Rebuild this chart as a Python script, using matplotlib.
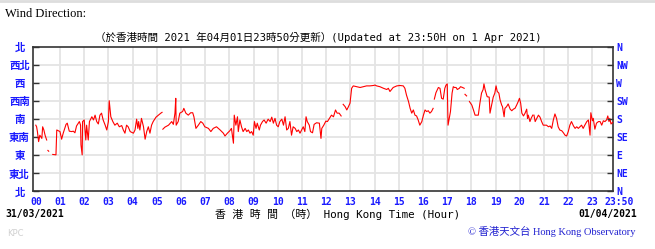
import numpy as np
import matplotlib.pyplot as plt
from matplotlib.lines import Line2D

# wind direction trace, minutes after 00:00, degrees (None = no data)
minutes = [0, 2, 4, 7, 10, 15, 17, 20, 23, 27, None,
           30, 32, None,
           42, 50, 52, 56, 60, 64, 68, 75, 78, 83, 89, 93, 97, 101, 108, 111, 112, 115,
           116, 120, 124, 126, 130, 133, 139, 143, 147, 151, 155, 159, 163, 167, 172,
           176, 180, 182, 186, 191, 196, 202, 207, 213, 217, 221, 225, 229, 234, 242,
           246, 250, 253, 255, 258, 262, 267, 271, 275, 279, 283, 287, 291, 298, 304,
           310, 313, None,
           315, 320, 329, 337, 341, 345, 347, 348, 353, 357, 364, 367, 372, 378, 384,
           389, 392, 397, 403, 409, 414, 419, 428, 434, 440, 448, 457, 465, 469, 475,
           481, 485, 490, 492, 496, 500, 502, 506, 510, 514, 519, 523, 527, 531, 535,
           539, 542, 546, 549, 554, 557, 562, 566, 571, 576, 581, 585, 589, 593, 597,
           601, 605, 610, 614, 618, 622, 626, 630, 634, 638, 643, 647, 651, 655, 659,
           663, 667, 670, 673, 678, 681, 686, 690, 696, 703, 707, 709, 714, 719, 723,
           728, 733, 738, 743, 747, 752, 757, None,
           762, 767, 771, 775, 779, 783, 787, 795, 804, 812, 820, 828, 837, 841, 845,
           853, 862, 870, 874, 878, 882, 886, 895, 903, 911, 915, 919, 924, 928, 932,
           936, 940, 944, 948, 952, 957, 961, 965, 969, 973, 977, 981, 985, None,
           988, 992, 998, 1002, 1006, 1010, 1014, 1017, 1020, 1022, 1025, 1028, 1032,
           1035, 1038, 1042, 1045, 1050, 1053, 1058, 1062, None,
           1064, 1068, None,
           1075, 1081, 1085, 1089, 1093, 1097, 1101, 1105, 1109, 1111, 1114, 1119, 1124,
           1126, 1130, 1134, 1138, 1141, 1144, 1148, 1151, 1155, 1157, 1161, 1163, 1167,
           1171, 1176, 1180, 1184, 1188, 1192, 1196, 1199, 1202, 1205, 1209, 1213, 1217,
           1219, 1221, 1225, 1228, 1232, None,
           1235, 1238, 1242, 1246, 1250, 1254, 1258, 1262, 1266, 1271, 1275, 1279, 1283,
           1287, 1291, 1295, 1299, 1304, 1308, 1312, 1316, 1320, 1324, 1328, 1333, 1337,
           1341, 1345, 1349, 1353, 1357, 1361, 1366, 1370, 1374, 1376, 1380, 1382, 1386,
           1390, 1395, 1399, 1403, 1407, 1411, 1415, 1418, 1421, 1423, 1426, 1430]
degrees = [165, 161, 149, 124, 140, 132, 161, 153, 140, 128, None,
           102, 100, None,
           92, 91, 153, 151, 149, 130, 145, 167, 170, 150, 149, 150, 146, 163, 174, 165, 116, 91,
           174, 178, 128, 165, 128, 174, 186, 178, 190, 174, 168, 190, 195, 178, 165,
           153, 174, 226, 186, 174, 165, 170, 161, 164, 153, 145, 165, 161, 149, 145,
           153, 180, 157, 174, 153, 182, 161, 130, 149, 161, 145, 165, 174, 185, 190,
           195, 197, None,
           155, 160, 165, 174, 167, 195, 232, 165, 174, 195, 199, 207, 195, 190, 196,
           196, 186, 157, 165, 174, 170, 161, 157, 149, 157, 161, 153, 145, 138, 145,
           151, 157, 120, 190, 165, 186, 149, 178, 161, 149, 157, 149, 153, 145, 149,
           140, 174, 157, 170, 153, 165, 174, 178, 170, 180, 174, 185, 170, 182, 165,
           161, 174, 180, 165, 186, 153, 157, 174, 140, 161, 157, 149, 153, 145, 153,
           161, 149, 186, 174, 165, 149, 146, 167, 171, 170, 132, 157, 165, 175, 174,
           182, 190, 186, 203, 195, 195, 188, None,
           217, 211, 203, 211, 220, 257, 263, 261, 259, 261, 263, 263, 264, 265, 263,
           261, 257, 254, 257, 249, 254, 259, 263, 264, 263, 257, 240, 224, 207, 195,
           203, 190, 188, 178, 165, 174, 190, 203, 199, 201, 195, 199, 207, None,
           230, 246, 259, 257, 232, 230, 257, 265, 268, 165, 182, 199, 245,
           261, 259, 259, 254, 257, 261, 259, 257, None,
           242, 238, None,
           224, 215, 203, 190, 190, 190, 220, 245, 254, 268, 253, 236, 235,
           195, 215, 235, 245, 263, 249, 245, 228, 215, 211, 186, 207, 211,
           218, 205, 201, 205, 207, 215, 224, 232, 220, 195, 188, 195, 205,
           182, 190, 174, 182, 190, None,
           190, 174, 182, 190, 185, 174, 165, 165, 165, 161, 163, 157, 178,
           193, 182, 161, 153, 151, 146, 140, 138, 149, 165, 174, 163, 157,
           161, 157, 161, 165, 157, 165, 174, 178, 140, 196, 176, 182, 155,
           170, 174, 174, 165, 176, 174, 178, 188, 174, 182, 168, 172]

hour_labels = ["%02d" % h for h in range(24)]
hour_ticks = [h * 60 for h in range(24)]
end_label = "23:50"
end_minute = 1430
dir_ticks = [0, 45, 90, 135, 180, 225, 270, 315, 360]
dir_cn = ["北", "東北", "東", "東南", "南", "西南", "西", "西北", "北"]
dir_en = ["N", "NE", "E", "SE", "S", "SW", "W", "NW", "N"]

blue = "#1a1aff"
mono = "DejaVu Sans Mono"
cjk = "Noto Sans CJK TC"

fig = plt.figure(figsize=(6.55, 2.49), dpi=100)
ax = fig.add_axes([0.0499, 0.2317, 0.8854, 0.5795])

t = np.array(minutes, dtype=float)
d = np.array(degrees, dtype=float)
ax.plot(t, d, color="#ff0000", lw=0.8, zorder=3)

ax.set_xlim(-7.7, end_minute)
ax.set_ylim(0, 360)

# grid
for h in range(1, 24):
    ax.axvline(h * 60, color="#e4e4e4", lw=1.3, zorder=1)
for y in dir_ticks[1:-1]:
    ax.axhline(y, color="#e4e4e4", lw=1.3, zorder=1)

for s in ax.spines.values():
    s.set_color("#333333")
    s.set_linewidth(1.2)

ax.set_xticks(hour_ticks)
ax.set_xticklabels(hour_labels, color=blue, fontsize=7, fontweight="bold", family=mono)
ax.tick_params(axis="x", length=0, pad=4)

# end-of-day label sits a bit right of the axis end
ax.annotate(end_label, xy=(end_minute, 0), xycoords=("data", "axes fraction"),
            xytext=(4.5, -7.4), textcoords="offset points", ha="center", va="center",
            color=blue, fontsize=7, fontweight="bold", family=mono)

ax.set_yticks(dir_ticks)
ax.set_yticklabels(dir_cn, color=blue, fontsize=7.5, fontweight="bold", family=cjk)
ax.tick_params(axis="y", direction="in", length=4, width=1, color="#333333", pad=9.5)
for lab in ax.get_yticklabels():
    lab.set_horizontalalignment("center")

ax2 = ax.twinx()
ax2.set_ylim(0, 360)
ax2.set_yticks(dir_ticks)
ax2.set_yticklabels(dir_en, color=blue, fontsize=7, fontweight="bold", family=mono)
ax2.tick_params(axis="y", direction="in", length=4, width=1, color="#333333", pad=2.5)
for s in ax2.spines.values():
    s.set_visible(False)

# texts
fig.add_artist(Line2D([0, 1], [0.997, 0.997], color="#dddddd", lw=2))
fig.text(5 / 655, 1 - 14 / 249, "Wind Direction:", family="Liberation Serif",
         fontsize=9, va="center", ha="left")
fig.text(318 / 655, 1 - 37 / 249,
         "（於香港時間 2021 年04月01日23時50分更新）(Updated at 23:50H on 1 Apr 2021)",
         family=[mono, cjk], fontsize=7.6, va="center", ha="center")
fig.text(5 / 655, 1 - 214 / 249, "31/03/2021", family=mono, fontweight="bold",
         fontsize=7, va="center", ha="left")
fig.text(637 / 655, 1 - 214 / 249, "01/04/2021", family=mono, fontweight="bold",
         fontsize=7, va="center", ha="right")
fig.text(338 / 655, 1 - 214 / 249, "香 港 時 間 （時） Hong Kong Time (Hour)",
         family=[mono, cjk], fontsize=7.8, va="center", ha="center")
fig.text(7 / 655, 1 - 233 / 249, "KPC", family="DejaVu Sans", fontsize=6,
         color="#d0d0d0", va="center", ha="left")
fig.text(636 / 655, 1 - 231 / 249, "© 香港天文台 Hong Kong Observatory",
         family=["Liberation Serif", cjk], fontsize=7.5, color="#2020d0",
         va="center", ha="right")

fig.savefig("out.png", dpi=100)
